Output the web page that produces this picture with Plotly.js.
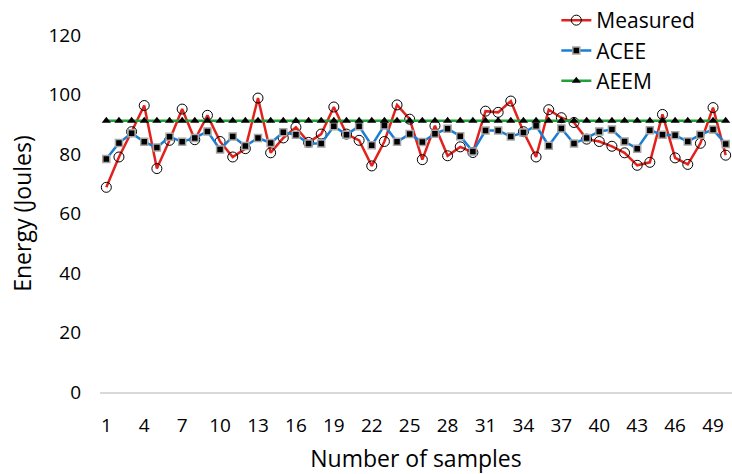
<!DOCTYPE html>
<html>
<head>
<meta charset="utf-8">
<script src="https://cdn.plot.ly/plotly-3.0.1.min.js"></script>
<style>
  html, body { margin: 0; padding: 0; background: #ffffff; }
  #chart { width: 732px; height: 474px; }
</style>
</head>
<body>
<div id="chart"></div>
<script>
// Sample index (category axis)
const samples = [1,2,3,4,5,6,7,8,9,10,11,12,13,14,15,16,17,18,19,20,
                 21,22,23,24,25,26,27,28,29,30,31,32,33,34,35,36,37,38,39,40,
                 41,42,43,44,45,46,47,48,49,50];

// Measured energy per sample (Joules)
const measured = [68.8,79.0,87.5,96.3,75.1,84.6,95.1,84.8,93.0,84.2,
                  79.0,81.8,98.8,80.4,85.4,89.0,83.9,86.7,95.8,86.7,
                  84.6,76.0,84.2,96.5,91.7,78.1,89.5,79.4,82.4,80.5,
                  94.4,94.0,97.8,87.5,79.0,94.9,92.2,90.6,85.0,84.2,
                  82.6,80.4,76.2,77.2,93.3,78.7,76.5,83.6,95.6,79.6];

// ACEE estimate per sample
const acee = [78.3,83.7,87.0,84.1,82.2,85.8,84.1,85.4,87.6,81.5,
              85.9,82.7,85.4,83.7,87.3,86.5,83.5,83.5,89.3,86.5,
              89.3,82.9,89.6,84.1,86.7,84.0,86.8,88.5,86.0,80.8,
              87.9,87.9,85.9,87.2,89.5,82.8,88.6,83.5,85.4,87.6,
              88.2,84.2,81.8,88.0,86.5,86.3,84.2,86.5,88.2,83.4];

// AEEM estimate per sample
const aeem = [91.2,91.2,91.2,91.2,91.2,91.2,91.2,91.2,91.2,91.2,
              91.2,91.2,91.2,91.2,91.2,91.2,91.2,91.2,91.2,91.2,
              91.2,91.2,91.2,91.2,91.2,91.2,91.2,91.2,91.2,91.2,
              91.2,91.2,91.2,91.2,91.2,91.2,91.2,91.2,91.2,91.2,
              91.2,91.2,91.2,91.2,91.2,91.2,91.2,91.2,91.2,91.2];

const xTicks = [1,4,7,10,13,16,19,22,25,28,31,34,37,40,43,46,49];
const yTicks = [0,20,40,60,80,100,120];

const FONT = '"Open Sans", "DejaVu Sans", sans-serif';

const traces = [
  {
    x: samples, y: measured, name: 'Measured', type: 'scatter', mode: 'lines+markers',
    line: { color: '#e3211c', width: 2.5 },
    marker: { symbol: 'circle-open', size: 10, color: '#000000', line: { color: '#000000', width: 1 } }
  },
  {
    x: samples, y: acee, name: 'ACEE', type: 'scatter', mode: 'lines+markers',
    line: { color: '#1a7fd4', width: 2.5 },
    marker: { symbol: 'square', size: 7, color: '#000000', line: { color: '#a6a6a6', width: 1.5 } }
  },
  {
    x: samples, y: aeem, name: 'AEEM', type: 'scatter', mode: 'lines+markers',
    line: { color: '#22a039', width: 2.5 },
    marker: { symbol: 'triangle-up', size: 8, color: '#000000' }
  }
];

const layout = {
  width: 732, height: 474,
  margin: { l: 100, r: 0, t: 35, b: 82, autoexpand: false },
  paper_bgcolor: '#ffffff', plot_bgcolor: '#ffffff',
  font: { family: FONT, color: '#000000' },
  showlegend: true,
  legend: {
    xref: 'container', yref: 'container',
    x: 0.760, y: 1.0, xanchor: 'left', yanchor: 'top',
    font: { family: FONT, size: 21, color: '#000000' },
    bgcolor: 'rgba(0,0,0,0)', borderwidth: 0, tracegroupgap: 0
  },
  xaxis: {
    range: [0.5, 50.5],
    tickmode: 'array', tickvals: xTicks, ticktext: xTicks.map(String),
    ticks: '', showgrid: false, zeroline: false,
    showline: true, linecolor: '#d9d9d9', linewidth: 1.5,
    ticklabelstandoff: 16,
    tickfont: { family: FONT, size: 19, color: '#000000' },
    title: { text: 'Number of samples', font: { family: FONT, size: 23, color: '#000000' }, standoff: 14 }
  },
  yaxis: {
    range: [0, 120],
    tickmode: 'array', tickvals: yTicks, ticktext: yTicks.map(String),
    ticks: '', showgrid: false, zeroline: false, showline: false,
    ticklabelstandoff: 18,
    tickfont: { family: FONT, size: 19, color: '#000000' },
    title: { text: 'Energy (Joules)', font: { family: FONT, size: 23, color: '#000000' }, standoff: 10 }
  }
};

Plotly.newPlot('chart', traces, layout, { displayModeBar: false, staticPlot: true });
</script>
</body>
</html>
